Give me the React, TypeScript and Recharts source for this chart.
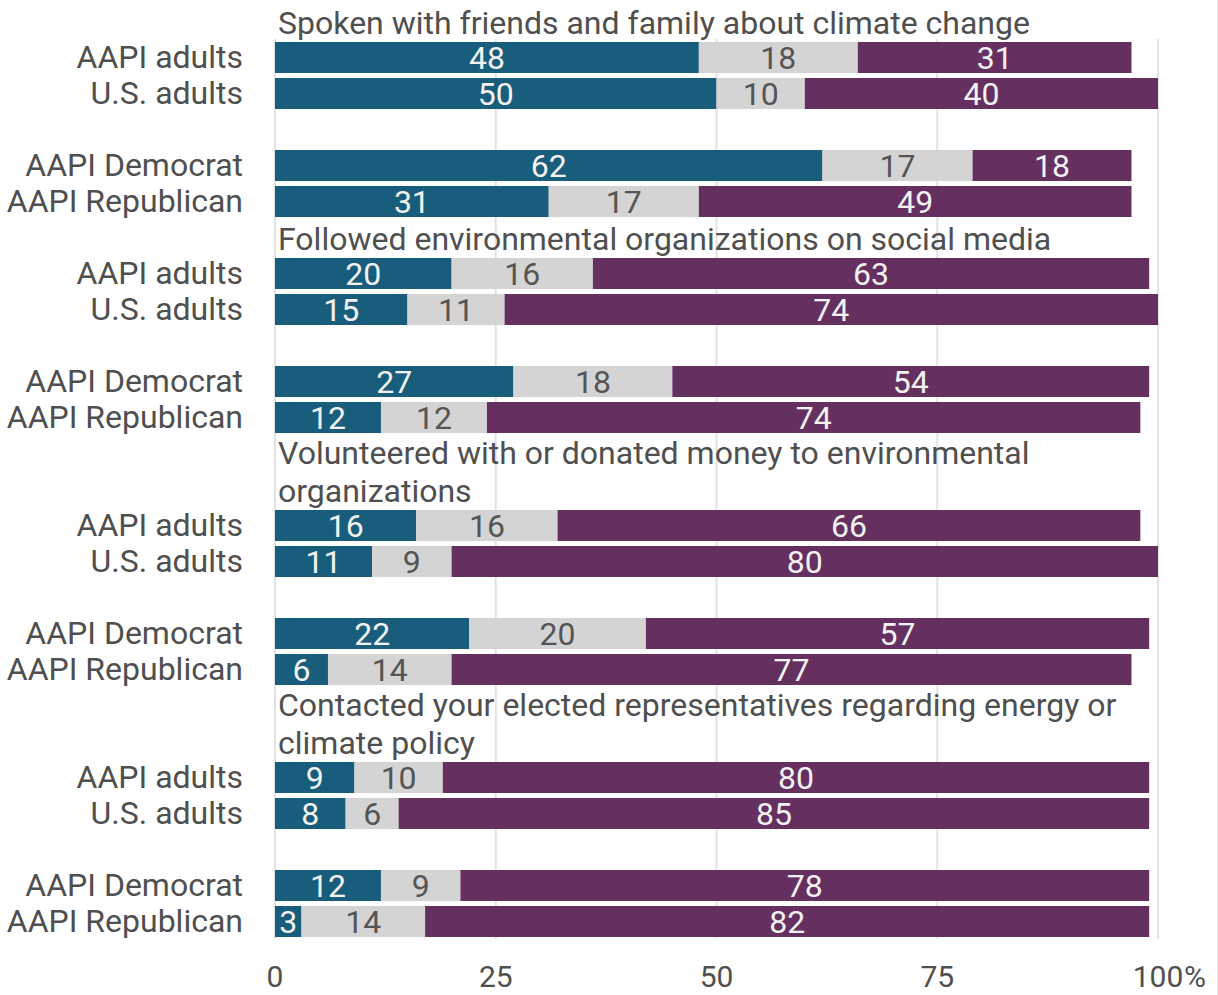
import { Bar, BarChart, CartesianGrid, LabelList, XAxis, YAxis } from "recharts";

const questions = [
  ["Spoken with friends and family about climate change"],
  ["Followed environmental organizations on social media"],
  ["Volunteered with or donated money to environmental", "organizations"],
  ["Contacted your elected representatives regarding energy or", "climate policy"],
];
const groups = ["AAPI adults", "U.S. adults", "AAPI Democrat", "AAPI Republican"];

// per question, values in the order of groups
const haveDone = [
  [48, 50, 62, 31],
  [20, 15, 27, 12],
  [16, 11, 22, 6],
  [9, 8, 12, 3],
];
const mightDo = [
  [18, 10, 17, 17],
  [16, 11, 18, 12],
  [16, 9, 20, 14],
  [10, 6, 9, 14],
];
const wouldNot = [
  [31, 40, 18, 49],
  [63, 74, 54, 74],
  [66, 80, 57, 77],
  [80, 85, 78, 82],
];
const xTicks = [0, 25, 50, 75, 100];

const BLUE = "#195d7c";
const GRAY = "#d4d4d4";
const PURPLE = "#653060";
const TEXT = "#4f4f4f";
const FONT = 32;
const PLOT_LEFT = 275;

type Row = {
  key: string;
  group?: string;
  title?: string[] | null;
  haveDone?: number;
  mightDo?: number;
  wouldNot?: number;
};

// spacer rows leave room for the section titles and the gap between pairs
const rows: Row[] = [];
questions.forEach((q, s) => {
  if (s > 0) q.forEach((_, i) => rows.push({ key: `t${s}-${i}` }));
  groups.forEach((g, i) => {
    if (i === 2) rows.push({ key: `gap${s}` });
    rows.push({
      key: `${s}-${g}`,
      group: g,
      title: i === 0 ? q : null,
      haveDone: haveDone[s][i],
      mightDo: mightDo[s][i],
      wouldNot: wouldNot[s][i],
    });
  });
});

const rowByKey = new Map(rows.map((r) => [r.key, r]));

function CategoryTick(props: any) {
  const { x, y, payload } = props;
  const row = rowByKey.get(payload.value);
  if (!row || !row.group) return null;
  const lines = row.title || [];
  return (
    <g>
      <text x={x} y={y} dy="0.355em" textAnchor="end" fontSize={FONT} fill={TEXT} fontFamily="Roboto">
        {row.group}
      </text>
      {lines.map((line, i) => (
        <text
          key={i}
          x={PLOT_LEFT + 3}
          y={y - 34 - 38 * (lines.length - 1 - i)}
          dy="0.355em"
          textAnchor="start"
          fontSize={FONT}
          fill={TEXT}
          fontFamily="Roboto"
        >
          {line}
        </text>
      ))}
    </g>
  );
}

function PctTick(props: any) {
  const { x, y, payload } = props;
  return (
    <g>
      <text x={x} y={y} dy="0.71em" textAnchor="middle" fontSize={30} fill={TEXT} fontFamily="Roboto">
        {payload.value}
      </text>
      {payload.value === 100 && (
        <text x={x + 26} y={y} dy="0.71em" textAnchor="start" fontSize={30} fill={TEXT} fontFamily="Roboto">
          %
        </text>
      )}
    </g>
  );
}

const fmt = (v: any) => (v == null ? "" : v);

export default function App() {
  return (
    <div
      style={{
        position: "absolute",
        left: 0,
        top: 0,
        width: 1218,
        height: 995,
        boxSizing: "border-box",
        borderRight: "1px solid #e4e4e4",
        background: "#fff",
        fontFamily: "Roboto",
      }}
    >
      <BarChart
        layout="vertical"
        width={1217}
        height={995}
        data={rows}
        margin={{ top: 39, right: 59, bottom: 0, left: 0 }}
      >
        <CartesianGrid horizontal={false} stroke="#e2e2e2" strokeWidth={2} />
        <XAxis
          type="number"
          domain={[0, 100]}
          ticks={xTicks}
          height={56}
          axisLine={false}
          tickLine={false}
          tickSize={0}
          tickMargin={27}
          tick={<PctTick />}
        />
        <YAxis
          type="category"
          dataKey="key"
          width={PLOT_LEFT}
          interval={0}
          axisLine={false}
          tickLine={false}
          tickSize={0}
          tickMargin={32}
          tick={<CategoryTick />}
        />
        <Bar dataKey="haveDone" stackId="a" fill={BLUE} barSize={31} isAnimationActive={false}>
          <LabelList dataKey="haveDone" position="center" fill="#f2f2f2" fontSize={FONT} fontFamily="Roboto" formatter={fmt} />
        </Bar>
        <Bar dataKey="mightDo" stackId="a" fill={GRAY} barSize={31} isAnimationActive={false}>
          <LabelList dataKey="mightDo" position="center" fill="#555555" fontSize={FONT} fontFamily="Roboto" formatter={fmt} />
        </Bar>
        <Bar dataKey="wouldNot" stackId="a" fill={PURPLE} barSize={31} isAnimationActive={false}>
          <LabelList dataKey="wouldNot" position="center" fill="#f2f2f2" fontSize={FONT} fontFamily="Roboto" formatter={fmt} />
        </Bar>
      </BarChart>
    </div>
  );
}
